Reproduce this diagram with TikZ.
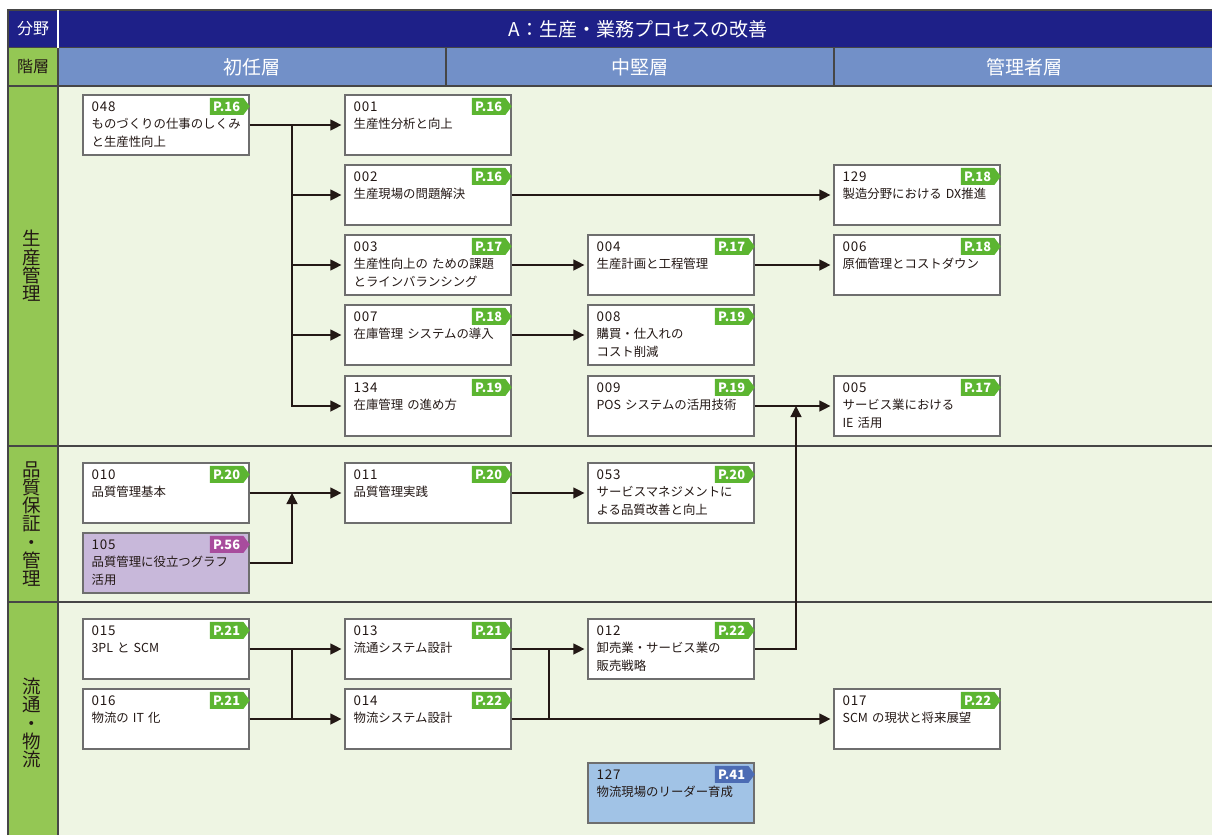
\documentclass[tikz,border=0pt]{standalone}
\usepackage{fontspec}
\setmainfont{Noto Sans CJK JP}
\newfontfamily\numfont[LetterSpace=6]{Noto Sans CJK JP}
\usetikzlibrary{arrows.meta,shapes.symbols,calc}

\definecolor{navy}{RGB}{30,32,136}
\definecolor{headblue}{RGB}{114,144,200}
\definecolor{sidegreen}{RGB}{148,199,84}
\definecolor{paper}{RGB}{238,245,227}
\definecolor{tagw}{RGB}{92,181,49}
\definecolor{tagp}{RGB}{168,76,157}
\definecolor{tagb}{RGB}{76,108,180}
\definecolor{boxw}{RGB}{255,255,255}
\definecolor{boxp}{RGB}{200,184,218}
\definecolor{boxb}{RGB}{161,195,230}
\definecolor{ink}{RGB}{35,24,21}
\definecolor{frame}{RGB}{110,110,110}
\definecolor{rule}{RGB}{70,70,70}

\tikzset{
  course/.style={draw=frame, line width=1.2, minimum width=166, minimum height=60, inner sep=0},
  ctext/.style={anchor=base west, inner sep=0, text width=156, align=left, text=ink, font=\fontsize{12.4}{17.5}\selectfont},
  pgtag/.style={signal, signal to=east, signal pointer angle=106, minimum width=40, minimum height=17,
    inner sep=0, text=white, font=\bfseries\fontsize{12.8}{12.8}\selectfont},
  arr/.style={draw=ink, line width=1.3, -{Triangle[length=11,width=11]}, shorten >=3},
  link/.style={draw=ink, line width=1.3},
  side/.style={align=center, text=ink, font=\fontsize{18.5}{18.3}\selectfont},
  head/.style={text=white, font=\fontsize{19}{19}\selectfont}
}

\begin{document}
\begin{tikzpicture}[x=1pt, y=-1pt]
  \useasboundingbox (0,0) rectangle (1212,835);
  % table frame
  \fill[navy] (8,10) rectangle (1212,47.5);
  \fill[headblue] (58,47.5) rectangle (1212,86);
  \fill[sidegreen] (8,47.5) rectangle (58,835);
  \fill[paper] (58,86) rectangle (1212,835);
  \draw[rule, line width=1.6] (8,835) -- (8,10) -- (1212,10);
  \draw[rule, line width=1.6] (8,47.5) -- (1212,47.5) (8,86) -- (1212,86);
  \draw[rule, line width=1.6] (8,446) -- (1212,446) (8,602) -- (1212,602);
  \draw[rule, line width=1.6] (58,47.5) -- (58,835) (446,47.5) -- (446,86) (834,47.5) -- (834,86);
  \draw[white, line width=1.4] (58,10) -- (58,47.5);

  \node[head, font=\fontsize{16}{16}\selectfont] (hfield) at (33,29) {分野};
  \node[text=ink, font=\fontsize{16}{16}\selectfont] (hlevel) at (33,67) {階層};
  \node[head] (htitle) at (638,29) {A：生産・業務プロセスの改善};
  \node[head] (hjunior) at (252,67) {初任層};
  \node[head] (hmiddle) at (640,67) {中堅層};
  \node[head] (hmanager) at (1024,67) {管理者層};

  \node[side] (sprod) at (32,266) {生\\産\\管\\理};
  \node[side] (squal) at (32,524) {品\\質\\保\\証\\・\\管\\理};
  \node[side] (sdist) at (32,723) {流\\通\\・\\物\\流};

  % courses
  \foreach \id/\x/\y/\pg/\kind/\txt in {
    048/83/95/16/w/{ものづくりの仕事のしくみ\\と生産性向上},
    001/345/95/16/w/{生産性分析と向上},
    002/345/165/16/w/{生産現場の問題解決},
    129/834/165/18/w/{製造分野における DX推進},
    003/345/235/17/w/{生産性向上の ための課題\\とラインバランシング},
    004/588/235/17/w/{生産計画と工程管理},
    006/834/235/18/w/{原価管理とコストダウン},
    007/345/305/18/w/{在庫管理 システムの導入},
    008/588/305/19/w/{購買・仕入れの\\コスト削減},
    134/345/376/19/w/{在庫管理 の進め方},
    009/588/376/19/w/{POS システムの活用技術},
    005/834/376/17/w/{サービス業における\\IE 活用},
    010/83/463/20/w/{品質管理基本},
    105/83/533/56/p/{品質管理に役立つグラフ\\活用},
    011/345/463/20/w/{品質管理実践},
    053/588/463/20/w/{サービスマネジメントに\\よる品質改善と向上},
    015/83/619/21/w/{3PL と SCM},
    016/83/689/21/w/{物流の IT 化},
    013/345/619/21/w/{流通システム設計},
    014/345/689/22/w/{物流システム設計},
    012/588/619/22/w/{卸売業・サービス業の\\販売戦略},
    017/834/689/22/w/{SCM の現状と将来展望},
    127/588/763/41/b/{物流現場のリーダー育成}
  }{
    \node[course, fill=box\kind] (c\id) at (\x+83,\y+30) {};
    \node[ctext] (n\id) at ([shift={(9,17)}]c\id.north west) {{\numfont\fontsize{13.4}{17.5}\selectfont\id}\\\txt};
    \node[pgtag, fill=tag\kind] (p\id) at ([shift={(-23,12)}]c\id.north east) {P.\pg};
  }

  % connectors
  \coordinate (j048) at (292,125);
  \draw[arr] (c048) -- (c001);
  \foreach \t in {c002,c003,c007,c134}
    \draw[arr] (j048) |- (\t);
  \draw[arr] (c002) -- (c129);
  \draw[arr] (c003) -- (c004);
  \draw[arr] (c004) -- (c006);
  \draw[arr] (c007) -- (c008);
  \draw[arr] (c009) -- (c005);

  \coordinate (j010) at (292,493);
  \draw[arr] (c010) -- (c011);
  \draw[arr] (c011) -- (c053);
  \draw[arr, shorten >=0] (c105) -| (j010);

  \coordinate (j015) at (292,649);
  \coordinate (j016) at (292,719);
  \coordinate (j013) at (549,649);
  \coordinate (j014) at (549,719);
  \coordinate (j009) at (796,406);
  \draw[arr] (c015) -- (c013);
  \draw[arr] (c016) -- (c014);
  \draw[link] (j015) -- (j016);
  \draw[arr] (c013) -- (c012);
  \draw[arr] (c014) -- (c017);
  \draw[link] (j013) -- (j014);
  \draw[arr, shorten >=0] (c012) -| (j009);
\end{tikzpicture}
\end{document}
